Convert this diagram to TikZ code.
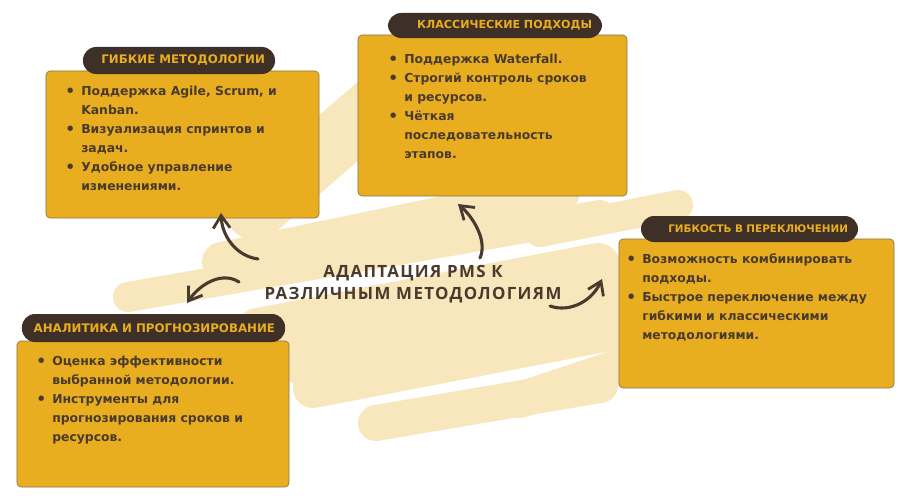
\documentclass[tikz,border=0pt]{standalone}
\usepackage{fontspec}
\setmainfont{DejaVu Sans}
\newfontfamily\titlefont[LetterSpace=8]{Open Sans}
\usetikzlibrary{arrows.meta}
\definecolor{cream}{HTML}{F8E6BC}
\definecolor{gold}{HTML}{E8AE20}
\definecolor{bark}{HTML}{3E2F27}
\definecolor{ink}{HTML}{4A3A2E}
\definecolor{edge}{HTML}{8C7650}
\newcommand{\blt}{\makebox[0.35cm][l]{\hspace*{-0.05cm}\raisebox{-0.7pt}{\fontsize{11}{11}\selectfont\textbullet}}}
\newcommand{\ind}{\hspace*{0.35cm}}
\tikzset{
  scribble/.style={cream, line width=1.1cm, line cap=round},
  panel/.style={draw=edge, fill=gold, line width=0.5pt, rounded corners=3pt, inner sep=0pt},
  tab/.style={fill=bark, text=gold, rounded corners=0.33cm, font=\bfseries\fontsize{8.4}{10}\selectfont, align=right, inner xsep=0.25cm, inner ysep=0pt},
  body/.style={text=ink, font=\bfseries\fontsize{8.8}{13.5}\selectfont, align=left, anchor=north west, inner sep=0pt},
  curl/.style={ink, line width=2.2pt, line cap=round, -{Straight Barb[length=9pt,width=12pt,line width=2pt]}}
}

\begin{document}
\begin{tikzpicture}[x=0.025cm, y=-0.025cm]
                \useasboundingbox (0,0) rectangle (913,500);
                \draw[scribble, line width=1.5cm] (255,210) -- (385,98);
                \draw[scribble, line width=1cm] (222,262) -- (560,192);
                \draw[scribble, line width=0.75cm] (128,297) -- (600,215);
                \draw[scribble, line width=0.75cm] (540,232) -- (678,205);
                \draw[scribble] (258,330) -- (598,265);
                \draw[scribble] (300,362) -- (640,292);
                \draw[scribble, line width=1cm] (313,388) -- (640,325);
                \draw[scribble, line width=0.9cm] (376,423) -- (600,385);
                \draw[scribble, line width=0.9cm] (520,400) -- (640,360);

                \node[panel, minimum width=6.825cm, minimum height=3.675cm] (agile) at (182.5,144.5) {};
                \node[panel, minimum width=6.725cm, minimum height=4.025cm] (classic) at (492.5,115.5) {};
                \node[panel, minimum width=6.875cm, minimum height=3.725cm] (switch) at (756.5,313.5) {};
                \node[panel, minimum width=6.8cm, minimum height=3.65cm] (analytics) at (153,414) {};

                \node[tab, text width=4.3cm, minimum height=0.675cm] (agiletab) at (179,60.5) {ГИБКИЕ МЕТОДОЛОГИИ};
                \node[tab, text width=4.85cm, minimum height=0.625cm, font=\bfseries\fontsize{7.9}{10}\selectfont] (classictab) at (495,25.5) {КЛАССИЧЕСКИЕ ПОДХОДЫ};
                \node[tab, text width=4.925cm, minimum height=0.65cm, font=\bfseries\fontsize{7.4}{10}\selectfont] (switchtab) at (749.5,229) {ГИБКОСТЬ В ПЕРЕКЛЮЧЕНИИ};
                \node[tab, text width=6.075cm, minimum height=0.7cm] (analyticstab) at (153.5,328) {АНАЛИТИКА И ПРОГНОЗИРОВАНИЕ};

                \node[body] (agiletext) at (67,86) {\blt Поддержка Agile, Scrum, и\\ \ind Kanban.\\ \blt Визуализация спринтов и\\ \ind задач.\\ \blt Удобное управление\\ \ind изменениями.};
                \node[body] (classictext) at (390,54) {\blt Поддержка Waterfall.\\ \blt Строгий контроль сроков\\ \ind и ресурсов.\\ \blt Чёткая\\ \ind последовательность\\ \ind этапов.};
                \node[body] (switchtext) at (628,253) {\blt Возможность комбинировать\\ \ind подходы.\\ \blt Быстрое переключение между\\ \ind гибкими и классическими\\ \ind методологиями.};
                \node[body] (analyticstext) at (38,356) {\blt Оценка эффективности\\ \ind выбранной методологии.\\ \blt Инструменты для\\ \ind прогнозирования сроков и\\ \ind ресурсов.};

                \node[text=ink, align=center, font=\titlefont\bfseries\fontsize{12}{15.6}\selectfont] (hub) at (413,284) {АДАПТАЦИЯ PMS К\\ РАЗЛИЧНЫМ МЕТОДОЛОГИЯМ};

                \coordinate (agilefrom) at (258,259);
                \coordinate (agileto) at (221,213);
                \coordinate (analyticsfrom) at (239,282);
                \coordinate (analyticsto) at (187,303);
                \coordinate (classicfrom) at (480,258);
                \coordinate (classicto) at (458,204);
                \coordinate (switchfrom) at (550,306);
                \coordinate (switchto) at (602,279);
                \draw[curl] (agilefrom) .. controls (236,256) and (222,236) .. (agileto);
                \draw[curl] (analyticsfrom) .. controls (222,271) and (200,284) .. (analyticsto);
                \draw[curl] (classicfrom) .. controls (488,240) and (472,216) .. (classicto);
                \draw[curl] (switchfrom) .. controls (570,313) and (592,301) .. (switchto);
\end{tikzpicture}
\end{document}
